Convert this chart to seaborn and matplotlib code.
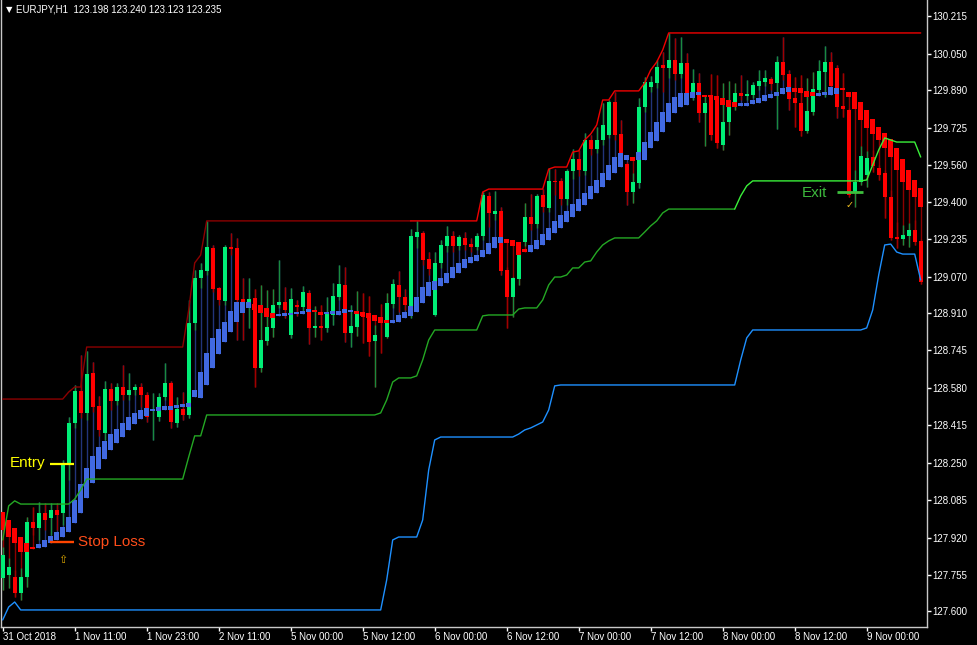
import numpy as np
import pandas as pd
import matplotlib
matplotlib.use("Agg")
import matplotlib.pyplot as plt
import seaborn as sns

# --- axis labels (MT4 style, EURJPY H1) ---
price_ticks = [130.215, 130.050, 129.890, 129.725, 129.560, 129.400, 129.235, 129.070, 128.910,
               128.745, 128.580, 128.415, 128.250, 128.085, 127.920, 127.755, 127.600]
price_labels = ["130.215", "130.050", "129.890", "129.725", "129.560", "129.400", "129.235", "129.070",
                "128.910", "128.745", "128.580", "128.415", "128.250", "128.085", "127.920", "127.755",
                "127.600"]
time_pos = [0, 12, 24, 36, 48, 60, 72, 84, 96, 108, 120, 132, 144]
time_labels = ["31 Oct 2018", "1 Nov 11:00", "1 Nov 23:00", "2 Nov 11:00", "5 Nov 00:00", "5 Nov 12:00",
               "6 Nov 00:00", "6 Nov 12:00", "7 Nov 00:00", "7 Nov 12:00", "8 Nov 00:00", "8 Nov 12:00",
               "9 Nov 00:00"]

# --- candles ---
open_ = [
    127.744, 127.757, 127.749, 127.678, 127.749, 127.990, 127.964, 128.030, 128.008, 128.043,
    128.030, 128.250, 128.426, 128.567, 128.470, 128.646, 128.501, 128.382, 128.575, 128.523,
    128.584, 128.549, 128.571, 128.584, 128.549, 128.481, 128.452, 128.540, 128.602, 128.426,
    128.487, 128.461, 128.866, 129.064, 129.095, 129.196, 129.020, 128.963, 129.200, 129.196,
    128.971, 128.936, 128.976, 128.668, 128.787, 128.844, 128.945, 128.958, 128.813, 128.943,
    128.936, 128.998, 128.844, 128.853, 128.844, 128.901, 128.980, 129.033, 128.822, 128.848,
    128.914, 128.910, 128.787, 128.892, 128.804, 128.949, 129.033, 128.980, 128.901, 129.244,
    129.262, 129.147, 128.901, 129.130, 129.205, 129.249, 129.205, 129.240, 129.213, 129.200,
    129.249, 129.425, 129.345, 129.359, 129.099, 128.980, 129.059, 129.222, 129.332, 129.301,
    129.429, 129.372, 129.491, 129.491, 129.411, 129.535, 129.587, 129.535, 129.671, 129.631,
    129.671, 129.693, 129.838, 129.697, 129.565, 129.442, 129.482, 129.816, 129.904, 129.922,
    130.001, 129.988, 130.023, 129.961, 130.010, 129.882, 129.922, 129.790, 129.869, 129.865,
    129.649, 129.750, 129.816, 129.878, 129.865, 129.869, 129.909, 129.926, 129.939, 129.922,
    130.014, 129.961, 129.856, 129.834, 129.711, 129.794, 129.891, 129.970, 130.014, 129.988,
    129.821, 129.803, 129.442, 129.486, 129.517, 129.596, 129.548, 129.526, 129.420, 129.244,
    129.235, 129.249, 129.275, 129.227]
high = [
    127.880, 127.832, 127.779, 127.788, 128.012, 128.056, 128.078, 128.074, 128.074, 128.074,
    128.263, 128.452, 128.593, 128.725, 128.743, 128.694, 128.545, 128.611, 128.602, 128.602,
    128.681, 128.646, 128.597, 128.602, 128.562, 128.558, 128.558, 128.690, 128.611, 128.540,
    128.562, 128.967, 129.099, 129.130, 129.315, 129.209, 129.024, 129.209, 129.262, 129.240,
    129.064, 129.064, 129.015, 129.033, 129.011, 129.015, 129.143, 129.024, 129.020, 128.967,
    129.029, 129.011, 128.941, 128.945, 128.980, 129.042, 129.121, 129.112, 128.945, 129.007,
    128.998, 128.985, 128.857, 128.949, 128.998, 129.059, 129.095, 129.015, 129.279, 129.315,
    129.271, 129.178, 129.178, 129.231, 129.293, 129.271, 129.253, 129.266, 129.240, 129.262,
    129.442, 129.442, 129.447, 129.376, 129.112, 129.068, 129.222, 129.394, 129.433, 129.433,
    129.455, 129.548, 129.543, 129.504, 129.543, 129.631, 129.627, 129.702, 129.693, 129.728,
    129.834, 129.847, 129.882, 129.759, 129.574, 129.526, 129.856, 129.948, 129.953, 130.023,
    130.058, 130.142, 130.120, 130.124, 130.054, 129.983, 129.966, 129.869, 129.961, 129.957,
    129.922, 129.931, 129.922, 129.957, 129.935, 129.926, 129.979, 129.979, 129.948, 130.041,
    130.124, 129.979, 129.948, 129.957, 129.944, 129.970, 130.023, 130.085, 130.058, 130.001,
    129.966, 129.812, 129.539, 129.645, 129.623, 129.627, 129.561, 129.539, 129.451, 129.310,
    129.297, 129.306, 129.319, 129.235]
low = [
    127.691, 127.700, 127.660, 127.647, 127.704, 127.933, 127.911, 127.955, 127.933, 127.955,
    127.977, 128.175, 128.404, 128.448, 128.439, 128.474, 128.369, 128.351, 128.483, 128.505,
    128.527, 128.527, 128.549, 128.496, 128.430, 128.351, 128.435, 128.527, 128.404, 128.408,
    128.439, 128.448, 128.835, 129.020, 129.077, 129.002, 128.945, 128.945, 129.165, 128.791,
    128.791, 128.844, 128.584, 128.650, 128.769, 128.804, 128.932, 128.888, 128.800, 128.897,
    128.914, 128.773, 128.804, 128.791, 128.826, 128.857, 128.967, 128.782, 128.760, 128.809,
    128.778, 128.721, 128.584, 128.734, 128.800, 128.932, 128.914, 128.923, 128.888, 129.196,
    129.121, 129.077, 128.897, 129.108, 129.178, 129.178, 129.187, 129.187, 129.178, 129.187,
    129.231, 129.288, 129.319, 129.077, 128.844, 128.892, 129.033, 129.205, 129.275, 129.284,
    129.354, 129.354, 129.429, 129.385, 129.385, 129.499, 129.513, 129.517, 129.605, 129.614,
    129.649, 129.680, 129.671, 129.574, 129.385, 129.394, 129.460, 129.794, 129.882, 129.900,
    129.882, 129.944, 129.935, 129.944, 129.847, 129.847, 129.750, 129.645, 129.671, 129.636,
    129.627, 129.693, 129.803, 129.847, 129.847, 129.856, 129.891, 129.909, 129.891, 129.719,
    129.935, 129.803, 129.728, 129.689, 129.702, 129.781, 129.869, 129.860, 129.891, 129.768,
    129.772, 129.420, 129.376, 129.473, 129.464, 129.530, 129.495, 129.328, 129.231, 129.196,
    129.209, 129.200, 129.209, 129.037]
close = [
    127.845, 127.792, 127.678, 127.749, 127.990, 127.964, 128.030, 127.999, 128.043, 128.021,
    128.241, 128.426, 128.567, 128.470, 128.641, 128.496, 128.395, 128.575, 128.523, 128.584,
    128.549, 128.571, 128.584, 128.549, 128.452, 128.483, 128.540, 128.602, 128.430, 128.487,
    128.461, 128.866, 129.064, 129.099, 129.200, 129.015, 128.967, 129.200, 129.191, 128.967,
    128.958, 128.971, 128.668, 128.791, 128.848, 128.945, 128.958, 128.923, 128.971, 128.938,
    129.002, 128.844, 128.853, 128.844, 128.910, 128.985, 129.037, 128.822, 128.853, 128.910,
    128.892, 128.782, 128.813, 128.866, 128.954, 129.037, 128.980, 128.945, 129.249, 129.266,
    129.143, 129.103, 129.130, 129.209, 129.249, 129.205, 129.244, 129.209, 129.200, 129.249,
    129.429, 129.350, 129.359, 129.095, 128.980, 129.064, 129.205, 129.332, 129.301, 129.425,
    129.376, 129.491, 129.486, 129.411, 129.535, 129.587, 129.539, 129.671, 129.631, 129.671,
    129.737, 129.838, 129.693, 129.596, 129.442, 129.486, 129.816, 129.926, 129.926, 129.992,
    129.988, 130.023, 129.961, 130.010, 129.869, 129.922, 129.790, 129.834, 129.693, 129.658,
    129.750, 129.816, 129.878, 129.865, 129.873, 129.913, 129.931, 129.944, 129.917, 130.014,
    129.957, 129.851, 129.834, 129.711, 129.799, 129.895, 129.975, 130.014, 129.909, 129.816,
    129.807, 129.429, 129.486, 129.601, 129.592, 129.557, 129.517, 129.420, 129.240, 129.235,
    129.253, 129.275, 129.222, 129.046]

# --- heiken ashi style overlay bars ---
ha_open = [
    128.034, 127.999, 127.964, 127.924, 127.898, 127.880, 127.876, 127.880, 127.898, 127.911,
    127.924, 127.946, 127.986, 128.030, 128.096, 128.162, 128.223, 128.267, 128.307, 128.338,
    128.364, 128.395, 128.421, 128.443, 128.457, 128.479, 128.479, 128.483, 128.483, 128.492,
    128.496, 128.496, 128.540, 128.536, 128.593, 128.668, 128.729, 128.782, 128.826, 128.870,
    128.910, 128.932, 128.949, 128.945, 128.932, 128.910, 128.897, 128.897, 128.901, 128.905,
    128.905, 128.914, 128.923, 128.914, 128.905, 128.905, 128.901, 128.910, 128.914, 128.919,
    128.914, 128.910, 128.901, 128.892, 128.879, 128.866, 128.870, 128.888, 128.897, 128.914,
    128.954, 128.985, 129.011, 129.029, 129.042, 129.064, 129.086, 129.108, 129.130, 129.139,
    129.156, 129.169, 129.196, 129.218, 129.235, 129.231, 129.222, 129.191, 129.178, 129.191,
    129.209, 129.231, 129.262, 129.284, 129.310, 129.332, 129.359, 129.385, 129.411, 129.438,
    129.464, 129.495, 129.526, 129.552, 129.583, 129.596, 129.583, 129.583, 129.636, 129.667,
    129.706, 129.750, 129.790, 129.816, 129.825, 129.856, 129.869, 129.869, 129.869, 129.865,
    129.856, 129.847, 129.838, 129.821, 129.821, 129.829, 129.834, 129.843, 129.856, 129.865,
    129.873, 129.882, 129.900, 129.900, 129.887, 129.882, 129.865, 129.869, 129.869, 129.873,
    129.900, 129.882, 129.882, 129.838, 129.803, 129.763, 129.728, 129.702, 129.675, 129.636,
    129.587, 129.539, 129.495, 129.460]
ha_close = [
    127.955, 127.924, 127.898, 127.858, 127.858, 127.871, 127.893, 127.911, 127.929, 127.946,
    127.968, 128.012, 128.087, 128.157, 128.228, 128.281, 128.320, 128.347, 128.377, 128.399,
    128.426, 128.452, 128.470, 128.483, 128.492, 128.487, 128.496, 128.501, 128.501, 128.505,
    128.509, 128.514, 128.571, 128.650, 128.734, 128.800, 128.839, 128.870, 128.919, 128.958,
    128.958, 128.958, 128.923, 128.910, 128.892, 128.888, 128.905, 128.910, 128.910, 128.914,
    128.919, 128.927, 128.914, 128.901, 128.914, 128.919, 128.919, 128.927, 128.923, 128.905,
    128.897, 128.888, 128.875, 128.866, 128.866, 128.879, 128.901, 128.914, 128.941, 128.980,
    129.024, 129.046, 129.051, 129.064, 129.086, 129.112, 129.130, 129.147, 129.156, 129.165,
    129.187, 129.218, 129.244, 129.244, 129.218, 129.205, 129.165, 129.178, 129.209, 129.231,
    129.257, 129.284, 129.315, 129.341, 129.359, 129.389, 129.411, 129.438, 129.469, 129.495,
    129.526, 129.561, 129.596, 129.614, 129.605, 129.579, 129.618, 129.662, 129.706, 129.750,
    129.794, 129.834, 129.860, 129.878, 129.878, 129.882, 129.882, 129.860, 129.860, 129.847,
    129.825, 129.816, 129.816, 129.834, 129.834, 129.847, 129.856, 129.869, 129.873, 129.882,
    129.900, 129.904, 129.882, 129.878, 129.860, 129.865, 129.878, 129.882, 129.904, 129.900,
    129.891, 129.860, 129.807, 129.759, 129.724, 129.697, 129.671, 129.636, 129.596, 129.539,
    129.486, 129.451, 129.420, 129.376]

# --- channel lines ---
upper = ([128.531] * 11 + [128.562, 128.584, 128.584] + [128.760] * 17 + [128.923, 129.130, 129.165]
         + [129.315] * 46 + [129.442] + [129.455] * 10 + [129.543] + [129.552] * 3
         + [129.618, 129.623, 129.671, 129.697, 129.737, 129.847, 129.847] + [129.887] * 5
         + [129.922, 129.979, 130.014, 130.067] + [130.142] * 43)
trail = ([127.911, 128.061, 128.083] + [128.069] * 9 + [128.091, 128.131] + [128.179] * 17
         + [128.276, 128.369, 128.369] + [128.461] * 29 + [128.470, 128.527, 128.606] + [128.624] * 3
         + [128.633, 128.703, 128.791] + [128.835] * 8 + [128.897] + [128.901] * 5 + [128.927]
         + [128.932] * 3
         + [128.967, 129.033, 129.068, 129.068, 129.077, 129.108, 129.108, 129.134, 129.139, 129.178,
            129.209, 129.227]
         + [129.240] * 5 + [129.266, 129.293, 129.315, 129.350] + [129.367] * 12 + [129.425, 129.469]
         + [129.491] * 19 + [129.495, 129.561, 129.627, 129.680, 129.671] + [129.662] * 4 + [129.596])
lower = ([127.559, 127.616, 127.638] + [127.603] * 61 + [127.735, 127.911] + [127.924] * 4
         + [127.999, 128.219, 128.351] + [128.364] * 13
         + [128.377, 128.395, 128.404, 128.417, 128.430, 128.483, 128.589] + [128.593] * 30
         + [128.703, 128.800] + [128.835] * 19
         + [128.844, 128.923, 129.077, 129.209, 129.213, 129.178] + [129.169] * 3 + [129.055])

sns.set_theme(style="dark", rc={"axes.facecolor": "black", "figure.facecolor": "black",
                                "axes.grid": False})
plt.rcParams["font.family"] = ["Liberation Sans", "DejaVu Sans"]

df = pd.DataFrame({"open": open_, "high": high, "low": low, "close": close,
                   "ha_open": ha_open, "ha_close": ha_close,
                   "upper": upper, "trail": trail, "lower": lower})
df["bar"] = np.arange(len(df))
df["up"] = df["close"] >= df["open"]
df["ha_up"] = df["ha_close"] >= df["ha_open"]
df["ha_high"] = df[["high", "ha_open", "ha_close"]].max(axis=1)
df["ha_low"] = df[["low", "ha_open", "ha_close"]].min(axis=1)

fig = plt.figure(figsize=(9.77, 6.45), dpi=100)
ax = fig.add_axes([1 / 977, 18 / 645, 926 / 977, 627 / 645])
ax.set_facecolor("black")

# HA wicks behind, then candles, then HA bodies on top
ax.vlines(df["bar"], df["ha_low"], df["ha_high"],
          colors=list(np.where(df["ha_up"], "#22347a", "#8b0000")), lw=1, zorder=1)
ax.vlines(df["bar"], df["low"], df["high"],
          colors=list(np.where(df["up"], "#1a8a3e", "#a00000")), lw=1, zorder=2)

body_lo = df[["open", "close"]].min(axis=1)
body_h = np.maximum((df["close"] - df["open"]).abs(), 0.0035)
ax.bar(df["bar"], body_h, width=0.68, bottom=body_lo,
       color=list(np.where(df["up"], "#00ee76", "#ff0000")), lw=0, zorder=3)

ha_lo = df[["ha_open", "ha_close"]].min(axis=1)
ha_h = np.maximum((df["ha_close"] - df["ha_open"]).abs(), 0.0035)
ax.bar(df["bar"], ha_h, width=0.74, bottom=ha_lo,
       color=list(np.where(df["ha_up"], "#4169e1", "#ff0000")), lw=0, zorder=4)

# lines
sns.lineplot(data=df.iloc[:69], x="bar", y="upper", color="#8c0000", lw=1, ax=ax, zorder=5)
sns.lineplot(data=df.iloc[68:], x="bar", y="upper", color="#f00000", lw=1, ax=ax, zorder=5)
sns.lineplot(data=df.iloc[:123], x="bar", y="trail", color="#24a824", lw=1, ax=ax, zorder=5)
sns.lineplot(data=df.iloc[122:], x="bar", y="trail", color="#3af03a", lw=1, ax=ax, zorder=5)
sns.lineplot(data=df, x="bar", y="lower", color="#1e90ff", lw=1, ax=ax, zorder=5)

# trade marks
ax.plot([7.9, 11.9], [128.245, 128.245], color="#ffff00", lw=1.6, solid_capstyle="butt", zorder=6)
ax.text(1.1, 128.248, "Entry", color="#ffff00", fontsize=11, ha="left", va="center", zorder=6)
ax.plot([7.9, 11.9], [127.903, 127.903], color="#ff4500", lw=1.7, solid_capstyle="butt", zorder=6)
ax.text(12.5, 127.900, "Stop Loss", color="#ff4d1a", fontsize=11, ha="left", va="center", zorder=6)
ax.text(9.97, 127.825, "\u21e7", color="#d9a400", fontsize=8, ha="center", va="center",
        family=["DejaVu Sans"], zorder=6)
ax.text(133.2, 129.436, "Exit", color="#3cb83c", fontsize=11, ha="left", va="center", zorder=6)
ax.plot([139.1, 143.4], [129.442, 129.442], color="#3dbf3d", lw=2, solid_capstyle="butt", zorder=6)
ax.text(141.1, 129.387, "\u2713", color="#f0c020", fontsize=7, ha="center", va="center",
        family=["DejaVu Sans"], zorder=6)

# axes
ax.set_xlim(-0.28, 154.05)
ax.set_ylim(127.528, 130.287)
ax.set_xlabel("")
ax.set_ylabel("")
ax.yaxis.tick_right()
ax.set_yticks(price_ticks, price_labels)
ax.set_xticks(time_pos, time_labels)
for t in ax.get_xticklabels():
    t.set_ha("left")
ax.tick_params(axis="both", colors="white", labelcolor="white", labelsize=7,
               length=3, width=1, direction="out")
ax.tick_params(axis="x", bottom=True, pad=0.8)
ax.tick_params(axis="y", right=True, left=False, pad=1)
for s in ["left", "bottom", "right"]:
    ax.spines[s].set_visible(True)
    ax.spines[s].set_color("#c8c8c8")
    ax.spines[s].set_linewidth(1)
ax.spines["top"].set_visible(False)

fig.text(6 / 977, 1 - 10 / 645, "\u25bc", color="white", fontsize=6, va="center",
         family=["DejaVu Sans"])
fig.text(16 / 977, 1 - 10 / 645, "EURJPY,H1  123.198 123.240 123.123 123.235",
         color="white", fontsize=7, va="center")

fig.savefig("out.png", dpi=100, facecolor="black")
